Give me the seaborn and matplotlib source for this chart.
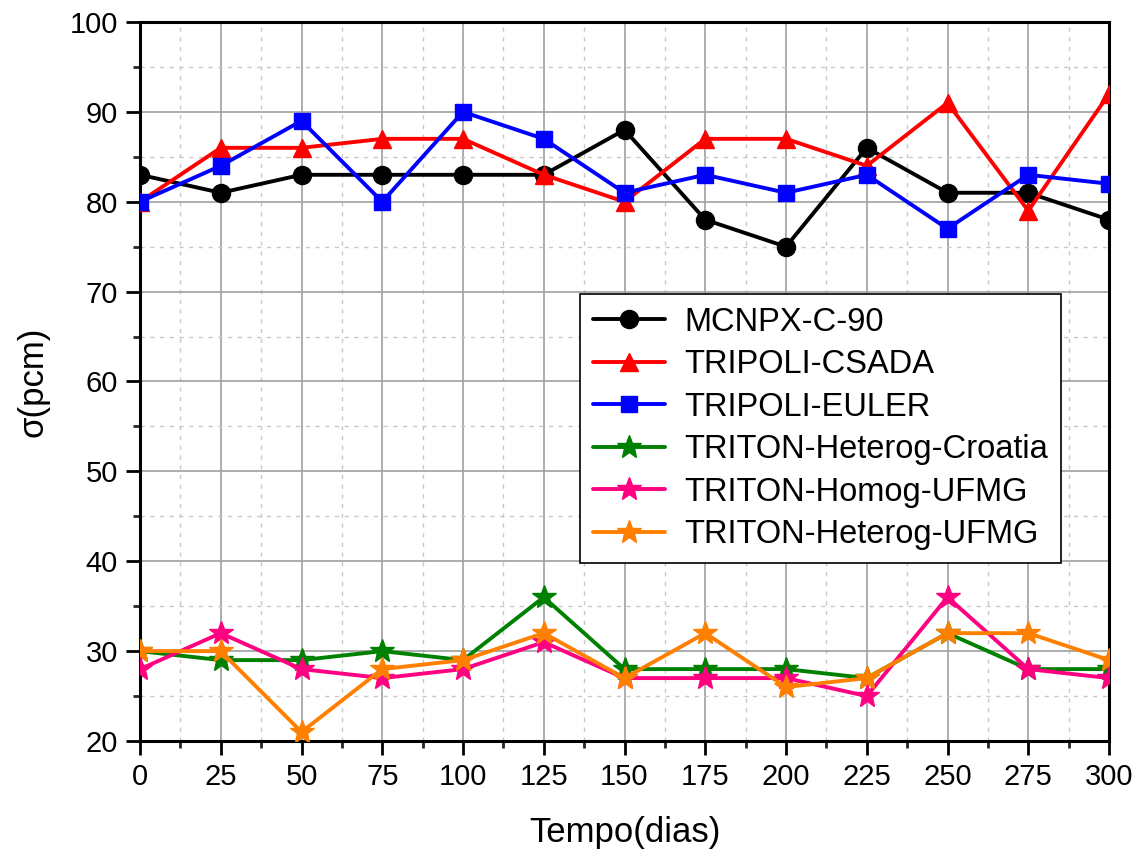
import matplotlib
matplotlib.use("Agg")
import matplotlib.pyplot as plt
import seaborn as sns
import numpy as np
import pandas as pd
from matplotlib.ticker import MultipleLocator

days = [0, 25, 50, 75, 100, 125, 150, 175, 200, 225, 250, 275, 300]
mcnpx = [83, 81, 83, 83, 83, 83, 88, 78, 75, 86, 81, 81, 78]
tripoli_csada = [80, 86, 86, 87, 87, 83, 80, 87, 87, 84, 91, 79, 92]
tripoli_euler = [80, 84, 89, 80, 90, 87, 81, 83, 81, 83, 77, 83, 82]
triton_het_croatia = [30, 29, 29, 30, 29, 36, 28, 28, 28, 27, 32, 28, 28]
triton_hom_ufmg = [28, 32, 28, 27, 28, 31, 27, 27, 27, 25, 36, 28, 27]
triton_het_ufmg = [30, 30, 21, 28, 29, 32, 27, 32, 26, 27, 32, 32, 29]

names = ["MCNPX-C-90", "TRIPOLI-CSADA", "TRIPOLI-EULER",
         "TRITON-Heterog-Croatia", "TRITON-Homog-UFMG", "TRITON-Heterog-UFMG"]
series = [mcnpx, tripoli_csada, tripoli_euler, triton_het_croatia, triton_hom_ufmg, triton_het_ufmg]
colors = ["#000000", "#ff0000", "#0000ff", "#008000", "#ff0080", "#ff8000"]
markers = ["o", "^", "s", "*", "*", "*"]
msizes = [13, 13, 12, 18, 18, 18]

sns.set_theme(style="white")
plt.rcParams['font.family'] = ['Liberation Sans', 'DejaVu Sans']
plt.rcParams['text.color'] = 'black'
plt.rcParams['axes.labelcolor'] = 'black'

fig = plt.figure(figsize=(11.43, 8.52), dpi=100)
ax = fig.add_axes([140/1143, 1-741/852, (1109-140)/1143, (741-22)/852])

for name, vals, c, m, ms in zip(names, series, colors, markers, msizes):
    df = pd.DataFrame({"x": days, "y": vals})
    sns.lineplot(data=df, x="x", y="y", ax=ax, color=c, marker=m, markersize=ms,
                 markeredgecolor=c, markeredgewidth=1, linewidth=2.8, label=name, zorder=3)

ax.set_xlim(0, 300)
ax.set_ylim(20, 100)
ax.xaxis.set_major_locator(MultipleLocator(25))
ax.xaxis.set_minor_locator(MultipleLocator(12.5))
ax.yaxis.set_major_locator(MultipleLocator(10))
ax.yaxis.set_minor_locator(MultipleLocator(5))

ax.grid(True, which="major", color="#a0a0a0", linestyle="-", linewidth=1.2, zorder=0)
ax.grid(True, which="minor", color="#c8c8c8", linestyle=(0, (3, 4)), linewidth=1.0, zorder=0)
ax.set_axisbelow(True)

for s in ax.spines.values():
    s.set_visible(True)
    s.set_color("black")
    s.set_linewidth(2.2)

ax.tick_params(axis="both", which="major", direction="out", length=10, width=2,
               labelsize=21, colors="black", bottom=True, left=True, top=False, right=False, pad=6)
ax.tick_params(axis="both", which="minor", direction="out", length=5, width=2,
               bottom=True, left=True, top=False, right=False)

ax.set_xlabel("Tempo(dias)", fontsize=25, labelpad=18, color="black")
ax.set_ylabel("σ(pcm)", fontsize=25, labelpad=14, color="black")

leg = ax.legend(loc="upper left", bbox_to_anchor=(0.454, 0.622), fontsize=23.5,
                frameon=True, fancybox=False, edgecolor="black", framealpha=1,
                handlelength=2.2, borderpad=0.4, labelspacing=0.35, handletextpad=0.6,
                borderaxespad=0)
leg.get_frame().set_linewidth(1.2)
leg.set_zorder(5)
for t in leg.get_texts():
    t.set_color("black")

fig.savefig("out.png", dpi=100)
